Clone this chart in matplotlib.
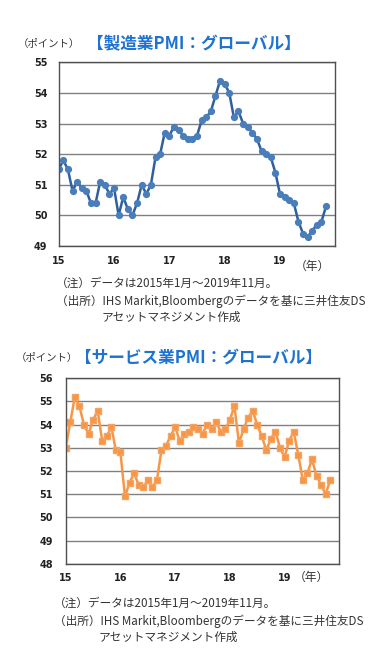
import numpy as np
import matplotlib.pyplot as plt

plt.rcParams['font.family'] = ['Noto Sans CJK JP', 'DejaVu Sans']

# 製造業PMI：グローバル 2015年1月～2019年11月
mfg_pmi = [51.5, 51.8, 51.5, 50.8, 51.1, 50.9, 50.8, 50.4, 50.4, 51.1, 51.0, 50.7,
           50.9, 50.0, 50.6, 50.2, 50.0, 50.4, 51.0, 50.7, 51.0, 51.9, 52.0, 52.7,
           52.6, 52.9, 52.8, 52.6, 52.5, 52.5, 52.6, 53.1, 53.2, 53.4, 53.9, 54.4,
           54.3, 54.0, 53.2, 53.4, 53.0, 52.9, 52.7, 52.5, 52.1, 52.0, 51.9, 51.4,
           50.7, 50.6, 50.5, 50.4, 49.8, 49.4, 49.3, 49.5, 49.7, 49.8, 50.3]

# サービス業PMI：グローバル
svc_pmi = [53.0, 54.1, 55.2, 54.8, 54.0, 53.6, 54.2, 54.6, 53.3, 53.5, 53.9, 52.9,
           52.8, 50.9, 51.5, 51.9, 51.4, 51.3, 51.6, 51.3, 51.6, 52.9, 53.1, 53.5,
           53.9, 53.3, 53.6, 53.7, 53.9, 53.8, 53.6, 54.0, 53.8, 54.1, 53.7, 53.8,
           54.2, 54.8, 53.2, 53.8, 54.3, 54.6, 54.0, 53.5, 52.9, 53.4, 53.7, 53.0,
           52.6, 53.3, 53.7, 52.7, 51.6, 51.9, 52.5, 51.8, 51.4, 51.0, 51.6]

year_ticks = [15, 16, 17, 18, 19]
year_labels = ['15', '16', '17', '18', '19']

W, H = 390, 651
fig = plt.figure(figsize=(W / 100, H / 100), dpi=100)


def px(x, y):
    return x / W, 1 - y / H


def add_panel(left, top, right, bottom):
    return fig.add_axes([left / W, 1 - bottom / H, (right - left) / W, (bottom - top) / H])


def style_axis(ax, ylim, ypad):
    ax.set_xlim(15, 20)
    ax.set_ylim(*ylim)
    yt = np.arange(ylim[0], ylim[1] + 1)
    ax.set_yticks(yt)
    ax.set_yticklabels([str(v) for v in yt], fontdict={'family': 'DejaVu Sans', 'weight': 'bold', 'size': 7})
    ax.set_xticks(year_ticks)
    ax.set_xticklabels(year_labels, fontdict={'family': 'DejaVu Sans', 'weight': 'bold', 'size': 7})
    ax.grid(axis='y', color='#808080', lw=1)
    ax.set_axisbelow(True)
    for s in ax.spines.values():
        s.set_color('#505050')
        s.set_linewidth(1)
    ax.tick_params(length=0, colors='#222222')
    ax.tick_params(axis='y', pad=ypad)
    ax.tick_params(axis='x', pad=7)


notes1 = '（注）データは2015年1月～2019年11月。'
notes2 = '（出所）IHS Markit,Bloombergのデータを基に三井住友DS'
notes3 = 'アセットマネジメント作成'
title_color = '#1e73d2'
text_color = '#333333'
nfs = 8.4

# 上段：製造業
ax1 = add_panel(58.7, 62.3, 335.3, 246)
x1 = 15 + np.arange(len(mfg_pmi)) / 12
ax1.plot(x1, mfg_pmi, color='#2f5f9f', lw=1.8, marker='o', ms=4.2,
         mfc='#4a7ebb', mec='#4a7ebb')
style_axis(ax1, (49, 55), 8)

fig.text(*px(18, 44), '（ポイント）', fontsize=7.5, color=text_color, va='center')
fig.text(*px(87, 44), '【製造業PMI：グローバル】', fontsize=12, color=title_color,
         fontweight='bold', va='center')
fig.text(*px(295, 266), '（年）', fontsize=8.5, color=text_color, va='center')
fig.text(*px(56, 283), notes1, fontsize=nfs, color=text_color, va='center')
fig.text(*px(56, 301), notes2, fontsize=nfs, color=text_color, va='center')
fig.text(*px(101, 317), notes3, fontsize=nfs, color=text_color, va='center')

# 下段：サービス業
ax2 = add_panel(65.7, 378.3, 339.3, 563.7)
x2 = 15 + np.arange(len(svc_pmi)) / 12
ax2.plot(x2, svc_pmi, color='#f79646', lw=1.8, marker='s', ms=4.2,
         mfc='#f79646', mec='#f4a460')
style_axis(ax2, (48, 56), 9)

fig.text(*px(16, 358), '（ポイント）', fontsize=7.5, color=text_color, va='center')
fig.text(*px(75, 358), '【サービス業PMI：グローバル】', fontsize=12, color=title_color,
         fontweight='bold', va='center')
fig.text(*px(294, 577), '（年）', fontsize=8.5, color=text_color, va='center')
fig.text(*px(54, 603), notes1, fontsize=nfs, color=text_color, va='center')
fig.text(*px(54, 621), notes2, fontsize=nfs, color=text_color, va='center')
fig.text(*px(99, 637), notes3, fontsize=nfs, color=text_color, va='center')

fig.savefig('out.png', dpi=100, facecolor='white')
